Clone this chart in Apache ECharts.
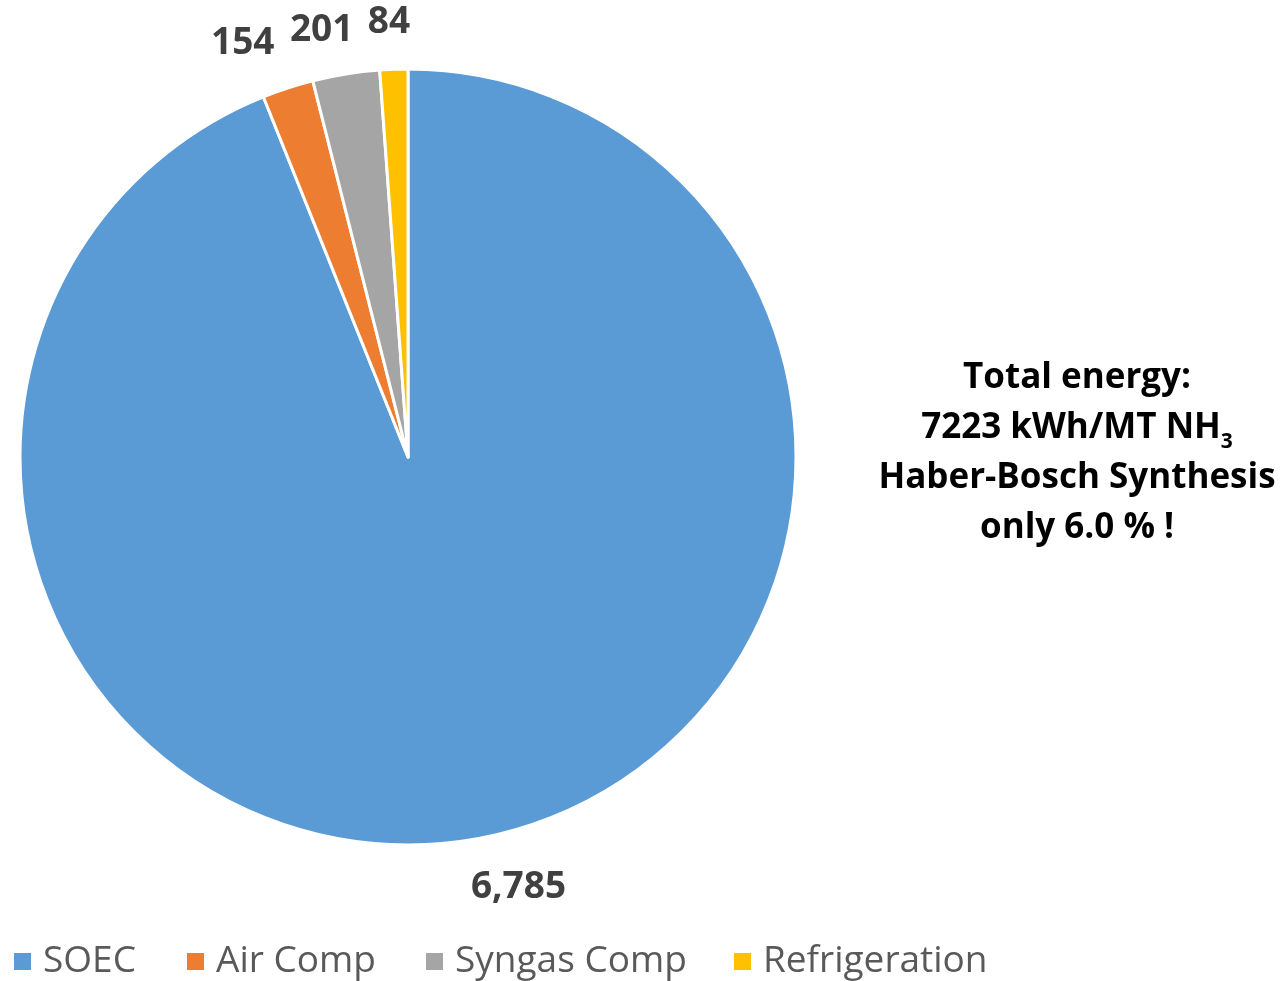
<!DOCTYPE html>
<html>
<head>
<meta charset="utf-8">
<script src="https://cdn.jsdelivr.net/npm/echarts@6/dist/echarts.min.js"></script>
<style>
html,body{margin:0;padding:0;background:#fff;}
#chart{width:1284px;height:981px;}
</style>
</head>
<body>
<div id="chart"></div>
<script>
const categories = ['SOEC', 'Air Comp', 'Syngas Comp', 'Refrigeration'];
const values = [6785, 154, 201, 84];
const colors = ['#5B9BD5', '#ED7D31', '#A5A5A5', '#FFC000'];
const noteLines = ['Total energy:', '7223 kWh/MT NH', '3', 'Haber-Bosch Synthesis', 'only 6.0 % !'];

const FONT = 'Open Sans';
const legendLefts = [12, 185, 424, 732];
const labelNudge = [[22, -2], [-24, 5], [-11, 8], [2, 5]];

const chart = echarts.init(document.getElementById('chart'));
chart.setOption({
  backgroundColor: '#ffffff',
  animation: false,
  color: colors,
  title: {
    text: '{a|' + noteLines[0] + '}\n{a|' + noteLines[1] + '}{s|' + noteLines[2] + '}\n{a|' + noteLines[3] + '}\n{a|' + noteLines[4] + '}',
    left: 1077,
    top: 353,
    padding: 0,
    textAlign: 'center',
    textStyle: {
      rich: {
        a: {fontFamily: FONT, fontWeight: 'bold', fontSize: 35, color: '#000', lineHeight: 50, align: 'center'},
        s: {fontFamily: FONT, fontWeight: 'bold', fontSize: 21, color: '#000', lineHeight: 50, verticalAlign: 'bottom', padding: [19, 0, 0, 0]}
      }
    }
  },
  legend: categories.map((c, i) => ({
    left: legendLefts[i],
    top: 943,
    padding: 0,
    itemWidth: 19,
    itemHeight: 19,
    itemGap: 0,
    icon: 'rect',
    textStyle: {fontFamily: FONT, fontSize: 37, color: '#595959', padding: [0, 0, 0, 6]},
    data: [c]
  })),
  series: [{
    type: 'pie',
    center: [408, 457],
    radius: [0, 388],
    startAngle: 90,
    clockwise: true,
    avoidLabelOverlap: false,
    itemStyle: {borderColor: '#fff', borderWidth: 3},
    label: {
      show: true,
      position: 'outside',
      fontFamily: FONT,
      fontWeight: 'bold',
      fontSize: 37,
      color: '#404040',
      formatter: p => p.value.toLocaleString('en-US')
    },
    labelLine: {show: false, length: 52, length2: 0},
    labelLayout: function (p) {
      return {align: 'center', verticalAlign: 'middle', dx: labelNudge[p.dataIndex][0], dy: labelNudge[p.dataIndex][1]};
    },
    data: categories.map((c, i) => ({name: c, value: values[i]}))
  }]
});
</script>
</body>
</html>
